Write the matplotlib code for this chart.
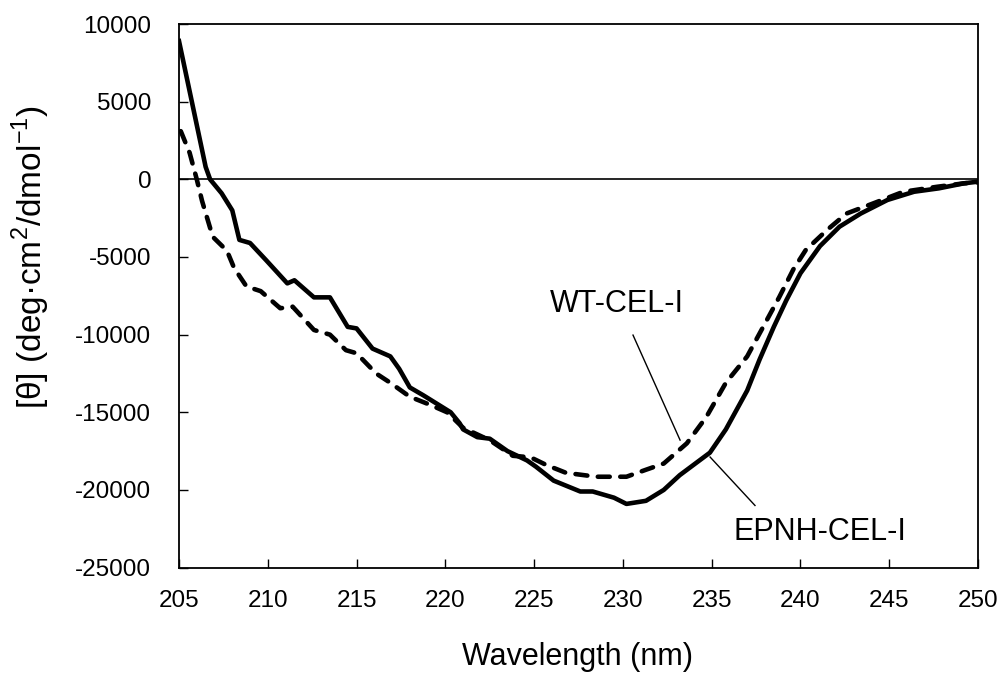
import matplotlib
matplotlib.use("Agg")
import matplotlib.pyplot as plt

plt.rcParams['font.family'] = ['Liberation Sans', 'DejaVu Sans']
plt.rcParams['mathtext.fontset'] = 'custom'
plt.rcParams['mathtext.rm'] = 'Liberation Sans'
plt.rcParams['axes.unicode_minus'] = False

# EPNH-CEL-I (solid)
epnh_x = [205.0, 206.5, 206.75, 207.4, 208.0, 208.4, 209.0, 209.9, 211.1, 211.5, 212.6,
          213.5, 214.5, 215.0, 215.9, 216.9, 217.4, 218.0, 218.75, 220.3, 220.8, 221.0,
          221.8, 222.5, 223.5, 224.6, 225.1, 226.1, 227.6, 228.3, 229.5, 230.2, 231.3,
          232.3, 233.2, 234.9, 235.8, 237.0, 237.7, 238.5, 239.2, 240.0, 241.1, 242.2,
          243.4, 244.9, 246.4, 247.8, 249.2, 250.0]
epnh_y = [8900, 800, 0, -900, -2000, -3900, -4100, -5200, -6700, -6500, -7600,
          -7600, -9500, -9600, -10900, -11400, -12200, -13400, -13900, -15000, -15700, -16100,
          -16600, -16700, -17500, -18100, -18500, -19400, -20100, -20100, -20500, -20900, -20700,
          -20000, -19050, -17600, -16100, -13600, -11600, -9500, -7800, -6050, -4300, -3050,
          -2200, -1330, -800, -580, -260, -150]

# WT-CEL-I (dashed)
wt_x = [205.1, 205.6, 206.0, 206.3, 206.9, 207.7, 208.1, 208.8, 209.6, 210.7, 211.4,
        212.6, 213.5, 214.4, 215.0, 216.1, 216.9, 218.0, 219.1, 220.1, 221.0, 222.5,
        223.8, 224.8, 225.7, 226.8, 228.5, 230.2, 231.3, 232.3, 233.6, 234.7, 235.8,
        237.0, 237.9, 238.8, 239.6, 240.3, 241.5, 242.6, 244.1, 245.8, 247.7, 249.2, 250.0]
wt_y = [3100, 1700, 0, -1400, -3700, -4600, -5700, -6900, -7200, -8300, -8200,
        -9700, -10000, -11000, -11200, -12500, -13100, -14000, -14500, -15000, -16000, -16800,
        -17800, -17900, -18400, -18900, -19150, -19150, -18700, -18300, -17000, -15300, -13100,
        -11400, -9500, -7600, -5800, -4550, -3260, -2200, -1550, -800, -480, -260, -200]

xticks = [205, 210, 215, 220, 225, 230, 235, 240, 245, 250]
yticks = [10000, 5000, 0, -5000, -10000, -15000, -20000, -25000]

fig = plt.figure(figsize=(10.04, 6.80), dpi=100)
ax = fig.add_axes([0.1783, 0.1653, 0.7958, 0.7994])

ax.axhline(0, color='black', linewidth=1.2, zorder=1)
ax.plot(epnh_x, epnh_y, color='black', linewidth=3.3, solid_joinstyle='round', zorder=3)
ax.plot(wt_x, wt_y, color='black', linewidth=3.3, linestyle=(0, (2.6, 2.3)),
        dash_capstyle='round', zorder=3)

ax.set_xlim(205, 250)
ax.set_ylim(-25000, 10000)
ax.set_xticks(xticks)
ax.set_yticks(yticks)
ax.tick_params(axis='both', direction='in', length=6.5, width=1.0, labelsize=17.5)
ax.tick_params(axis='y', pad=20)
ax.tick_params(axis='x', pad=16)
for s in ax.spines.values():
    s.set_linewidth(1.3)

# callouts
ax.plot([230.57, 233.22], [-10030, -16790], color='black', linewidth=1.0)
ax.plot([234.91, 237.44], [-17880, -21000], color='black', linewidth=1.0)
ax.text(229.67, -8030, 'WT-CEL-I', fontsize=22, ha='center', va='center')
ax.text(241.1, -22710, 'EPNH-CEL-I', fontsize=22, ha='center', va='center')

fig.text(577.5 / 1004, 1 - 657 / 680, 'Wavelength (nm)', fontsize=22, ha='center', va='center')
fig.text(31 / 1004, 1 - 257 / 680, r'[θ] (deg·cm$^{2}$/dmol$^{-1}$)', fontsize=24,
         rotation=90, ha='center', va='center')

fig.savefig('out.png', dpi=100)
